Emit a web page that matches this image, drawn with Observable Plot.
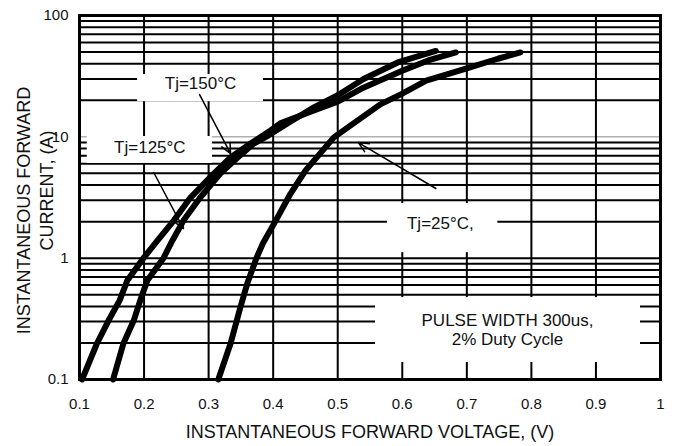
<!DOCTYPE html>
<html>
<head>
<meta charset="utf-8">
<script src="https://cdn.jsdelivr.net/npm/d3@7"></script>
<script src="https://cdn.jsdelivr.net/npm/@observablehq/plot@0.6"></script>
<style>
  html, body { margin: 0; padding: 0; background: #fff; }
  #chart { width: 678px; height: 446px; }
</style>
</head>
<body>
<div id="chart"></div>
<script>
// ---- Curve data (forward voltage V, forward current A) ----
const v150 = [0.104, 0.127, 0.145, 0.162, 0.174, 0.199, 0.221, 0.246, 0.272, 0.308, 0.334, 0.365, 0.396, 0.411, 0.463, 0.500, 0.537, 0.600, 0.640, 0.683];
const i150 = [0.10, 0.198, 0.306, 0.447, 0.653, 1.0, 1.40, 2.04, 3.16, 4.98, 6.75, 8.8, 11.3, 12.9, 16.5, 19.5, 25.0, 35.0, 42.6, 49.6];

const v125 = [0.152, 0.168, 0.184, 0.194, 0.205, 0.230, 0.244, 0.261, 0.287, 0.318, 0.345, 0.370, 0.393, 0.422, 0.463, 0.500, 0.540, 0.593, 0.652];
const i125 = [0.10, 0.198, 0.306, 0.447, 0.653, 1.0, 1.40, 2.04, 3.16, 4.98, 6.75, 8.8, 10.3, 12.9, 17.5, 22.0, 30.0, 41.0, 51.0];

const v25 = [0.315, 0.334, 0.349, 0.360, 0.374, 0.384, 0.404, 0.427, 0.450, 0.494, 0.537, 0.566, 0.600, 0.637, 0.700, 0.748, 0.783];
const i25 = [0.10, 0.198, 0.39, 0.62, 1.0, 1.32, 2.04, 3.41, 5.27, 9.9, 14.4, 18.5, 22.7, 29.0, 36.6, 44.0, 49.6];

// ---- Axis ticks & grid ----
const xTicks = [0.1, 0.2, 0.3, 0.4, 0.5, 0.6, 0.7, 0.8, 0.9, 1];
const yTicks = [0.1, 1, 10, 100];
const yGridThick = [0.1, 0.2, 0.3, 0.4, 0.5, 0.6, 0.7, 0.8, 0.9, 1, 2, 3, 4, 5, 6, 7, 8, 9, 20, 30, 40, 50, 60, 70, 80, 90, 100];
const yGridThin = [10];

// ---- Annotations ----
const labelText = ["Tj=150°C", "Tj=125°C", "Tj=25°C,", "PULSE WIDTH 300us,", "2% Duty Cycle"];
const labelV = [0.2875, 0.209, 0.659, 0.763, 0.763];
const labelI = [27.5, 8.2, 1.93, 0.306, 0.215];
const boxV1 = [0.190, 0.112, 0.577, 0.5586];
const boxV2 = [0.385, 0.306, 0.748, 0.969];
const boxI1 = [19.5, 6.03, 1.11, 0.138];
const boxI2 = [32.6, 10.06, 2.82, 0.473];

const arrowV1 = [0.286, 0.215, 0.652];
const arrowI1 = [22.3, 5.08, 3.75];
const arrowV2 = [0.334, 0.261, 0.532];
const arrowI2 = [7.28, 1.75, 8.97];

const xTitle = "INSTANTANEOUS FORWARD VOLTAGE, (V)";
const yTitle1 = "INSTANTANEOUS FORWARD";
const yTitle2 = "CURRENT, (A)";

// ---- Build tables ----
const series = [
  {name: "150", v: v150, i: i150},
  {name: "125", v: v125, i: i125},
  {name: "25", v: v25, i: i25}
];
const curveRows = series.flatMap(s => s.v.map((v, k) => ({v, i: s.i[k], s: s.name})));
const labels = labelText.map((t, k) => ({t, v: labelV[k], i: labelI[k]}));
const boxes = boxV1.map((v1, k) => ({v1, v2: boxV2[k], i1: boxI1[k], i2: boxI2[k]}));
const arrows = arrowV1.map((v1, k) => ({v1, i1: arrowI1[k], v2: arrowV2[k], i2: arrowI2[k]}));

const font = "'Liberation Sans', Arial, Helvetica, sans-serif";

const chart = Plot.plot({
  width: 678,
  height: 446,
  marginLeft: 79,
  marginRight: 18,
  marginTop: 15,
  marginBottom: 67,
  x: {type: "linear", domain: [0.1, 1]},
  y: {type: "log", domain: [0.1, 100]},
  style: {fontFamily: font, background: "white", color: "#111", overflow: "visible"},
  marks: [
    Plot.ruleY(yGridThin, {stroke: "#888", strokeWidth: 1}),
    Plot.ruleY(yGridThick, {stroke: "#000", strokeWidth: 2}),
    Plot.ruleX(xTicks, {stroke: "#000", strokeWidth: 2}),
    Plot.rect(boxes, {x1: "v1", x2: "v2", y1: "i1", y2: "i2", fill: "white"}),
    Plot.line(curveRows, {x: "v", y: "i", z: "s", stroke: "#000", strokeWidth: 6, strokeLinejoin: "round", strokeLinecap: "round"}),
    Plot.arrow(arrows, {x1: "v1", y1: "i1", x2: "v2", y2: "i2", stroke: "#000", strokeWidth: 1.5, headLength: 11, headAngle: 50}),
    Plot.text(labels, {x: "v", y: "i", text: "t", fontSize: 17, fill: "#111"}),
    Plot.frame({stroke: "#000", strokeWidth: 3}),
    Plot.axisX(xTicks, {tickSize: 0, tickPadding: 19, fontSize: 15, tickFormat: d => String(d), label: null}),
    Plot.axisY(yTicks, {tickSize: 0, tickPadding: 11, fontSize: 15, tickFormat: d => String(d), label: null}),
    Plot.text([xTitle], {frameAnchor: "bottom", dy: 46, lineAnchor: "top", fontSize: 18, fill: "#111"}),
    Plot.text([yTitle1], {frameAnchor: "left", dx: -55, dy: 13, rotate: -90, fontSize: 18, fill: "#111", textAnchor: "middle", lineAnchor: "middle"}),
    Plot.text([yTitle2], {frameAnchor: "left", dx: -32, dy: -7, rotate: -90, fontSize: 18, fill: "#111", textAnchor: "middle", lineAnchor: "middle"})
  ]
});

document.getElementById("chart").appendChild(chart);
</script>
</body>
</html>
